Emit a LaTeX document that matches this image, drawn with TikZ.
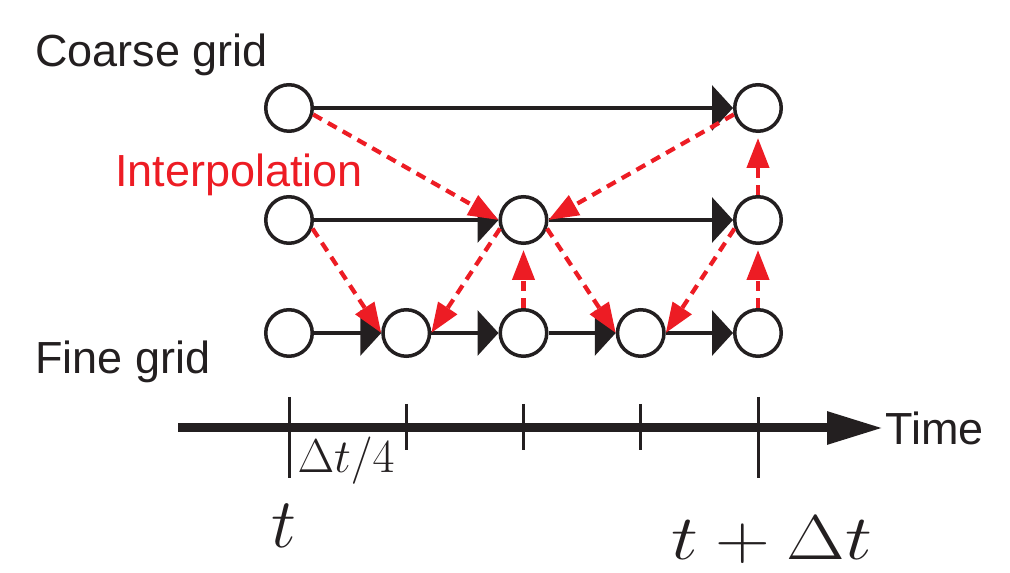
\RequirePackage{fix-cm}
\documentclass[tikz,border=0pt]{standalone}
\usepackage{fontspec}
\newfontfamily\gridfont{Liberation Sans}
\usepackage{xcolor}
\usepackage{tikz}
\definecolor{interpred}{HTML}{ED1C24}
\definecolor{inkblack}{HTML}{231F20}
\usetikzlibrary{arrows.meta, positioning, calc}

\begin{document}
\begin{tikzpicture}[
    every node/.style={font=\gridfont\fontsize{25.6}{30}\selectfont, text=inkblack},
    grid pt/.style={circle, draw=inkblack, line width=0.07cm, minimum size=0.93cm,
                    inner sep=0pt},
    fwd/.style={draw=inkblack, color=inkblack, line width=0.07cm,
                -{Triangle[length=0.42cm, width=0.9cm]}},
    interp/.style={color=interpred, line width=0.085cm,
                   dash pattern=on 0.2cm off 0.14cm,
                   -{Triangle[length=0.6cm, width=0.44cm]}},
    axis/.style={color=inkblack, line width=0.18cm,
                 -{Triangle[length=1.12cm, width=0.62cm]}},
    tick/.style={draw=inkblack, line width=0.06cm},
    mathlbl/.style={font=\fontsize{#1}{#1}\selectfont, inner sep=0pt},
]
\useasboundingbox (0,0) rectangle (20.2,11.46);

% --- Grid layout ---
\def\xa{5.78}    % x of time t
\def\dx{2.345}   % spacing of the fine grid
\def\yc{9.3}     % coarse row
\def\ym{7.06}    % middle row
\def\yf{4.8}     % fine row

% --- Grid points ---
\node[grid pt] (c1) at (\xa, \yc) {};
\node[grid pt] (c5) at ({\xa+4*\dx}, \yc) {};
\foreach \i in {1,3,5}
    \node[grid pt] (m\i) at ({\xa+(\i-1)*\dx}, \ym) {};
\foreach \i in {1,...,5}
    \node[grid pt] (f\i) at ({\xa+(\i-1)*\dx}, \yf) {};

% --- Row labels ---
\node[anchor=base west, inner sep=0pt] (coarse) at (0.7, 10.12) {Coarse grid};
\node[anchor=base west, inner sep=0pt, text=interpred] (interp label) at (2.3, 7.72) {Interpolation};
\node[anchor=base west, inner sep=0pt] (fine) at (0.7, 3.98) {Fine grid};

% --- Time stepping on each grid ---
\draw[fwd] (c1) -- (c5);
\draw[fwd] (m1) -- (m3);
\draw[fwd] (m3) -- (m5);
\foreach \i/\j in {1/2, 2/3, 3/4, 4/5}
    \draw[fwd] (f\i) -- (f\j);

% --- Interpolation between grids ---
\draw[interp] (c1.-15) -- (m3.west);
\draw[interp] (c5.195) -- (m3.east);
\draw[interp] (m1.-20) -- (f2.west);
\draw[interp] (m3.200) -- (f2.east);
\draw[interp] (m3.-20) -- (f4.west);
\draw[interp] (m5.200) -- (f4.east);
\draw[interp, shorten >=0.1cm] (f3) -- (m3);
\draw[interp, shorten >=0.1cm] (f5) -- (m5);
\draw[interp, shorten >=0.1cm] (m5) -- (c5);

% --- Time axis ---
\coordinate (ax0) at (3.56, 2.9);
\coordinate (ax1) at (17.66, 2.9);
\draw[axis] (ax0) -- (ax1);
\node[anchor=west, inner sep=0pt] (time) at ($(ax1)+(0.04,0)$) {Time};
\foreach \i in {2,3,4}
    \draw[tick] ({\xa+(\i-1)*\dx}, 3.38) -- ++(0,-0.92);
\foreach \i in {1,5}
    \draw[tick] ({\xa+(\i-1)*\dx}, 3.52) -- ++(0,-1.62);

% --- Time labels ---
\node[mathlbl=27, anchor=base] (dt4) at (6.92, 2.0) {$\Delta t/4$};
\node[mathlbl=40, anchor=base] (t0) at (5.68, 0.5) {$t$};
\node[mathlbl=36, anchor=base] (t1) at (15.44, 0.26) {\scalebox{1.2}[1]{$t+\Delta t$}};
\end{tikzpicture}
\end{document}
